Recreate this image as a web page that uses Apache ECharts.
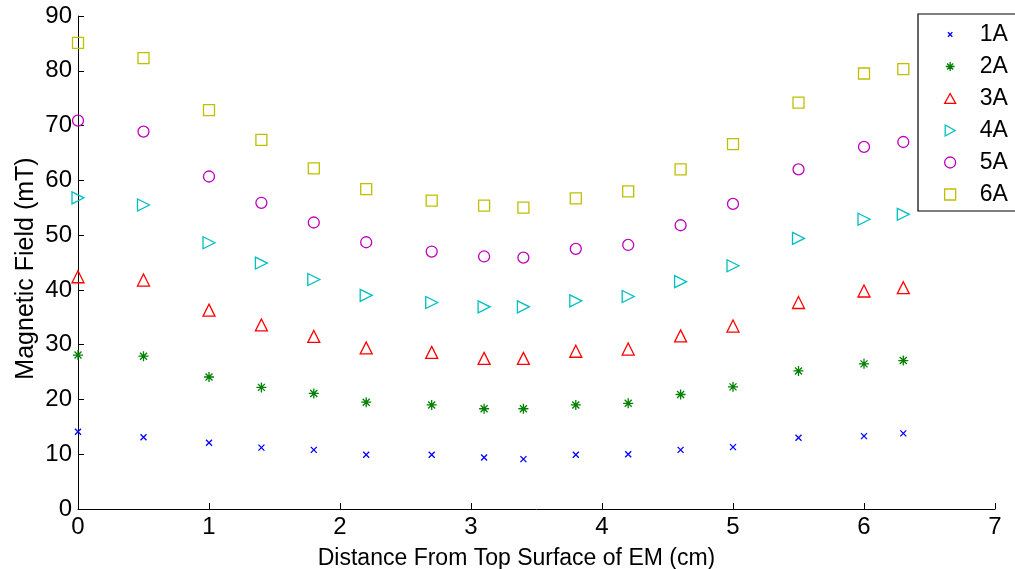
<!DOCTYPE html>
<html>
<head>
<meta charset="utf-8">
<script src="https://cdn.jsdelivr.net/npm/echarts@6/dist/echarts.min.js"></script>
<style>
  html, body { margin: 0; padding: 0; background: #fff; }
  #chart { width: 1015px; height: 569px; }
</style>
</head>
<body>
<div id="chart"></div>
<script>
// distance from top surface (cm)
const distance = [0, 0.5, 1, 1.4, 1.8, 2.2, 2.7, 3.1, 3.4, 3.8, 4.2, 4.6, 5, 5.5, 6, 6.3]

// magnetic field (mT) per coil current
const field1A = [14.1, 13.1, 12.1, 11.2, 10.8, 9.9, 9.9, 9.4, 9.1, 9.9, 10.0, 10.8, 11.3, 13.0, 13.3, 13.8]
const field2A = [28.1, 27.9, 24.1, 22.2, 21.1, 19.5, 19.0, 18.3, 18.3, 19.0, 19.3, 20.9, 22.3, 25.2, 26.5, 27.1]
const field3A = [42.4, 41.8, 36.3, 33.6, 31.5, 29.4, 28.6, 27.5, 27.5, 28.8, 29.2, 31.6, 33.4, 37.7, 39.8, 40.4]
const field4A = [56.8, 55.5, 48.6, 44.9, 41.9, 39.0, 37.7, 36.9, 36.9, 38.0, 38.8, 41.5, 44.4, 49.4, 52.9, 53.8]
const field5A = [70.9, 68.9, 60.7, 55.9, 52.3, 48.7, 47.0, 46.1, 45.9, 47.5, 48.2, 51.8, 55.7, 62.0, 66.1, 67.0]
const field6A = [85.1, 82.3, 72.8, 67.4, 62.2, 58.4, 56.3, 55.4, 55.0, 56.7, 58.0, 62.0, 66.6, 74.2, 79.5, 80.3]

const xTicks = [0, 7, 1]
const yTicks = [0, 90, 10]

const font = "Arial, 'Liberation Sans', sans-serif"

const markers = {
  cross: "path://M0,0L10,10M10,0L0,10",
  star: "path://M5,0L5,10M0,5L10,5M1.5,1.5L8.5,8.5M8.5,1.5L1.5,8.5",
  triUp: "path://M5,0L10,9L0,9Z",
  triRight: "path://M0,0L9,5L0,10Z",
  circle: "path://M5,0A5,5,0,1,1,4.99,0Z",
  square: "path://M0,0L10,0L10,10L0,10Z",
}

// legend icons share one box size, so the small ones get empty margins
const legendIcons = {
  cross: "path://M0,0L0,0M3,3L7,7M7,3L3,7M10,10L10,10",
  star: "path://M0,0L0,0M5,1L5,9M1,5L9,5M2.2,2.2L7.8,7.8M7.8,2.2L2.2,7.8M10,10L10,10",
}

const seriesDefs = [
  { name: "1A", data: field1A, color: "#0000ff", symbol: markers.cross, icon: legendIcons.cross, size: 6 },
  { name: "2A", data: field2A, color: "#008000", symbol: markers.star, icon: legendIcons.star, size: 10 },
  { name: "3A", data: field3A, color: "#ff0000", symbol: markers.triUp, icon: markers.triUp, size: 12 },
  { name: "4A", data: field4A, color: "#00bfbf", symbol: markers.triRight, icon: markers.triRight, size: 12 },
  { name: "5A", data: field5A, color: "#bf00bf", symbol: markers.circle, icon: markers.circle, size: 11 },
  { name: "6A", data: field6A, color: "#bfbf00", symbol: markers.square, icon: markers.square, size: 11 },
]

const chart = echarts.init(document.getElementById("chart"), null, { renderer: "canvas" })

const series = seriesDefs.map((s) => ({
  name: s.name,
  type: "scatter",
  data: distance.map((d, i) => [d, s.data[i]]),
  symbol: s.symbol,
  symbolSize: s.size,
  itemStyle: {
    color: "rgba(0,0,0,0)",
    borderColor: s.color,
    borderWidth: 1.3,
    opacity: 1,
  },
  emphasis: { disabled: true },
}))

const option = {
  animation: false,
  textStyle: { fontFamily: font },
  legend: {
    orient: "vertical",
    left: 918,
    top: 14,
    padding: [9, 60, 5, 26],
    itemGap: 9,
    itemWidth: 11,
    itemHeight: 11,
    borderColor: "#000",
    borderWidth: 1.2,
    backgroundColor: "#fff",
    textStyle: { fontSize: 23, color: "#000", fontFamily: font, padding: [0, 0, 0, 19] },
    data: seriesDefs.map((s) => ({
      name: s.name,
      icon: s.icon,
      itemStyle: { color: "rgba(0,0,0,0)", borderColor: s.color, borderWidth: 1.3 },
    })),
  },
  grid: {
    left: 78,
    right: 20,
    top: 16,
    bottom: 60,
    containLabel: false,
    outerBoundsMode: "none",
  },
  xAxis: {
    type: "value",
    min: xTicks[0],
    max: xTicks[1],
    interval: xTicks[2],
    name: "Distance From Top Surface of EM (cm)",
    nameLocation: "middle",
    nameGap: 38,
    nameMoveOverlap: false,
    nameTextStyle: { fontSize: 23, color: "#000", fontFamily: font, padding: [0, 40, 0, 0] },
    axisLine: { show: true, lineStyle: { color: "#000", width: 1 } },
    axisTick: { show: true, inside: true, length: 6, lineStyle: { color: "#000" } },
    axisLabel: { fontSize: 24, color: "#000", margin: 6, fontFamily: font },
    splitLine: { show: false },
  },
  yAxis: {
    type: "value",
    min: yTicks[0],
    max: yTicks[1],
    interval: yTicks[2],
    name: "Magnetic Field (mT)",
    nameLocation: "middle",
    nameGap: 39,
    nameMoveOverlap: false,
    nameTextStyle: { fontSize: 25, color: "#000", fontFamily: font, padding: [0, 12, 0, 0] },
    axisLine: { show: true, lineStyle: { color: "#000", width: 1 } },
    axisTick: { show: true, inside: true, length: 6, lineStyle: { color: "#000" } },
    axisLabel: { fontSize: 24, color: "#000", margin: 6, fontFamily: font },
    splitLine: { show: false },
  },
  series: series,
}

chart.setOption(option)
</script>
</body>
</html>
